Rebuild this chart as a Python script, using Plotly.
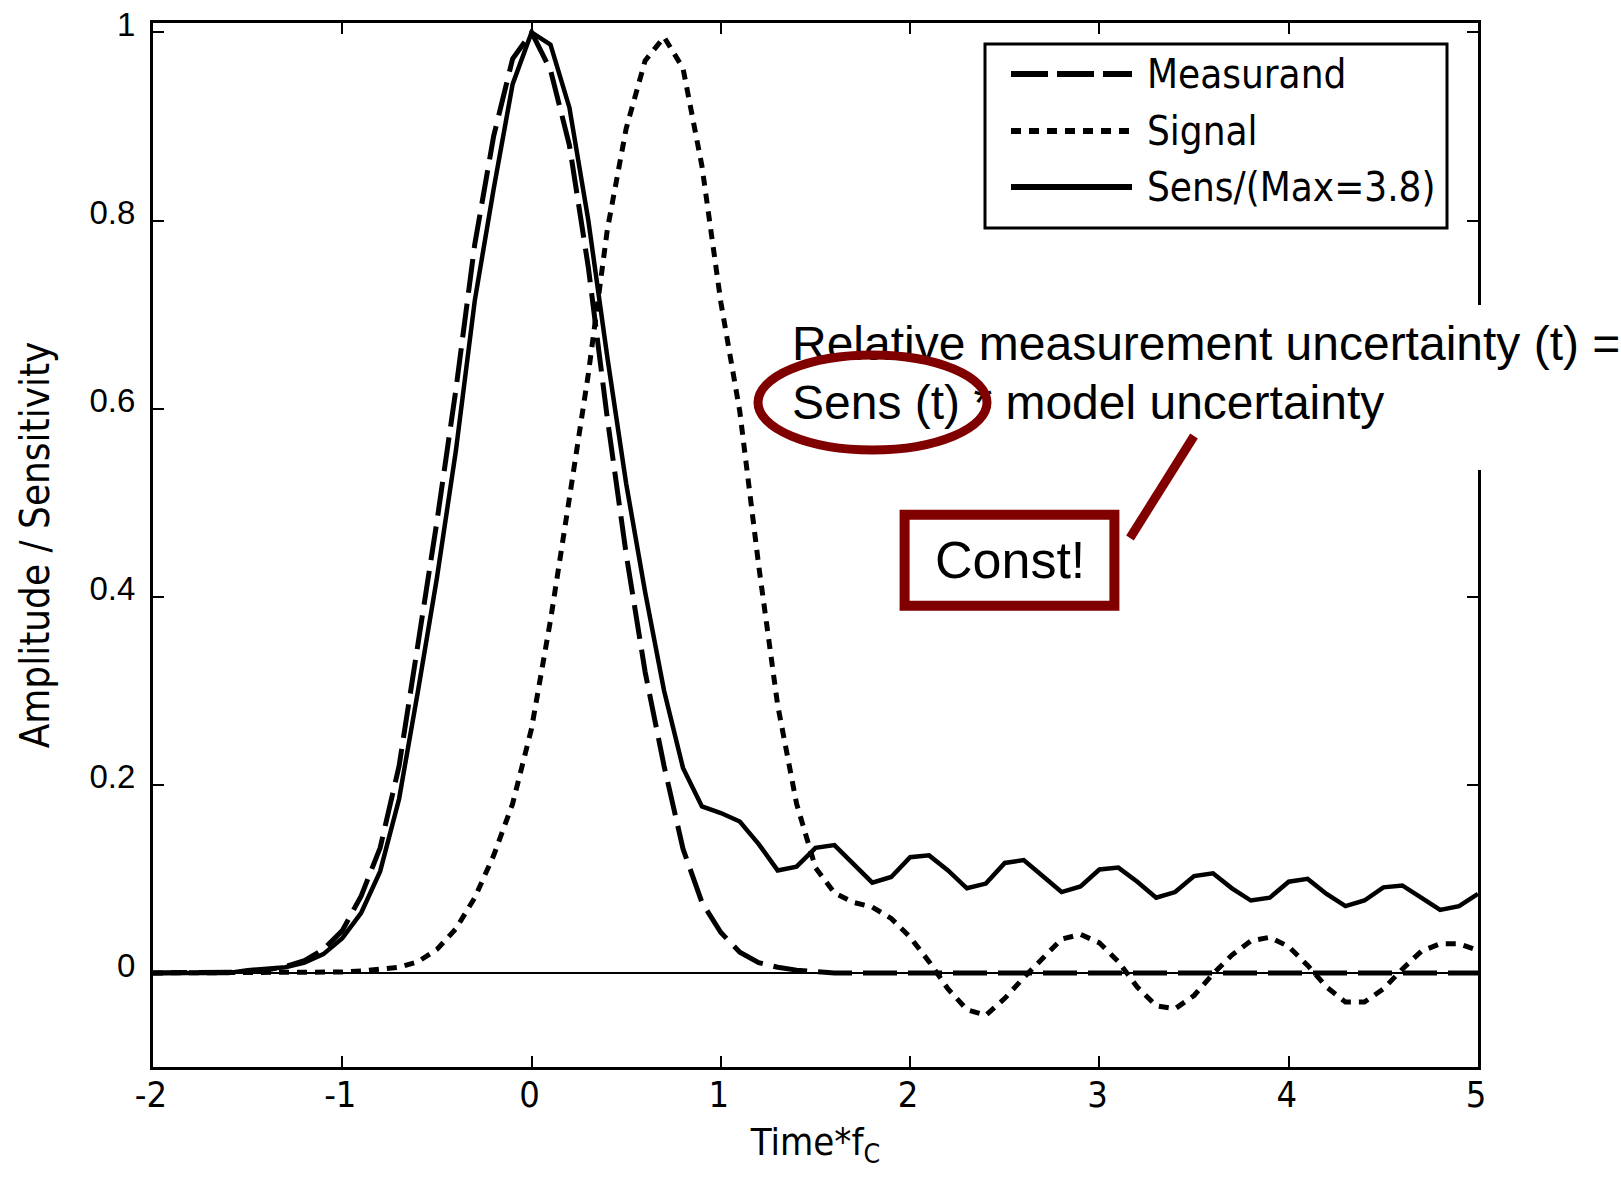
import plotly.graph_objects as go

# ---------------- data ----------------
time_fc = [-2.0, -1.9, -1.8, -1.7, -1.6, -1.5, -1.4, -1.3, -1.2, -1.1,
           -1.0, -0.9, -0.8, -0.7, -0.6, -0.5, -0.4, -0.3, -0.2, -0.1,
           0.0, 0.1, 0.2, 0.3, 0.4, 0.5, 0.6, 0.7, 0.8, 0.9,
           1.0, 1.1, 1.2, 1.3, 1.4, 1.5, 1.6, 1.7, 1.8, 1.9,
           2.0, 2.1, 2.2, 2.3, 2.4, 2.5, 2.6, 2.7, 2.8, 2.9,
           3.0, 3.1, 3.2, 3.3, 3.4, 3.5, 3.6, 3.7, 3.8, 3.9,
           4.0, 4.1, 4.2, 4.3, 4.4, 4.5, 4.6, 4.7, 4.8, 4.9,
           5.0]

measurand = [0, 0, 0, 0, 0, 0.001, 0.003, 0.007, 0.013, 0.025,
             0.045, 0.082, 0.133, 0.22, 0.35, 0.48, 0.62, 0.775, 0.89, 0.972,
             1.0, 0.96, 0.88, 0.75, 0.59, 0.445, 0.32, 0.22, 0.132, 0.075,
             0.043, 0.022, 0.011, 0.006, 0.003, 0.001, 0, 0, 0, 0,
             0, 0, 0, 0, 0, 0, 0, 0, 0, 0,
             0, 0, 0, 0, 0, 0, 0, 0, 0, 0,
             0, 0, 0, 0, 0, 0, 0, 0, 0, 0,
             0]

signal = [0, 0, 0, 0, 0, 0, 0, 0, 0, 0,
          0.001, 0.002, 0.0035, 0.006, 0.012, 0.025, 0.047, 0.08, 0.125, 0.18,
          0.26, 0.375, 0.505, 0.637, 0.79, 0.898, 0.97, 0.995, 0.962, 0.858,
          0.713, 0.597, 0.433, 0.285, 0.18, 0.112, 0.085, 0.075, 0.070, 0.058,
          0.038, 0.012, -0.017, -0.039, -0.045, -0.027, -0.005, 0.016, 0.036, 0.041,
          0.032, 0.012, -0.015, -0.035, -0.038, -0.024, -0.001, 0.019, 0.034, 0.038,
          0.028, 0.008, -0.015, -0.031, -0.031, -0.017, 0.004, 0.023, 0.031, 0.031,
          0.024]

sens_norm = [0, 0, 0, 0, 0, 0.003, 0.004, 0.006, 0.011, 0.02,
             0.037, 0.064, 0.108, 0.185, 0.30, 0.42, 0.555, 0.715, 0.834, 0.945,
             1.0, 0.987, 0.92, 0.80, 0.655, 0.52, 0.405, 0.30, 0.218, 0.177,
             0.170, 0.161, 0.137, 0.109, 0.113, 0.133, 0.136, 0.116, 0.096, 0.102,
             0.123, 0.125, 0.109, 0.090, 0.095, 0.117, 0.120, 0.103, 0.086, 0.092,
             0.110, 0.112, 0.097, 0.080, 0.086, 0.103, 0.106, 0.090, 0.077, 0.080,
             0.097, 0.100, 0.084, 0.071, 0.077, 0.091, 0.093, 0.080, 0.067, 0.071,
             0.084]

series_names = ["Measurand", "Signal", "Sens/(Max=3.8)"]
x_ticks = [-2, -1, 0, 1, 2, 3, 4, 5]
x_tick_labels = ["-2", "-1", "0", "1", "2", "3", "4", "5"]
y_ticks = [0, 0.2, 0.4, 0.6, 0.8, 1]

# ---------------- styling ----------------
NARROW = "Liberation Sans Narrow, Arial Narrow, DejaVu Sans Condensed, sans-serif"
SANS = "Liberation Sans, Arial, sans-serif"
DARKRED = "rgb(128,0,0)"
DASH_M = "34px,11px"
DASH_S = "10px,8px"

fig = go.Figure()
fig.add_trace(go.Scatter(x=time_fc, y=measurand, mode="lines", name=series_names[0],
                         line=dict(color="black", width=5, dash=DASH_M), showlegend=False))
fig.add_trace(go.Scatter(x=time_fc, y=signal, mode="lines", name=series_names[1],
                         line=dict(color="black", width=5, dash=DASH_S), showlegend=False))
fig.add_trace(go.Scatter(x=time_fc, y=sens_norm, mode="lines", name=series_names[2],
                         line=dict(color="black", width=4.5), showlegend=False))

axis_common = dict(showline=True, linecolor="black", linewidth=3, mirror="ticks",
                   ticks="inside", ticklen=11, tickwidth=2, tickcolor="black",
                   showgrid=False, automargin=False)

fig.update_layout(
    width=1621, height=1178,
    margin=dict(l=153, r=143, t=23, b=111),
    paper_bgcolor="white", plot_bgcolor="white",
    xaxis=dict(range=[-2, 5], tickvals=x_ticks, ticktext=x_tick_labels,
               tickfont=dict(family=NARROW, size=36, color="black"),
               zeroline=False, ticklabelstandoff=-6, ticklabelshift=-2,
               title=dict(text="Time*f<sub>C</sub>", font=dict(family=NARROW, size=38, color="black"),
                          standoff=15),
               **axis_common),
    yaxis=dict(range=[-0.1, 1.01], tickvals=y_ticks, tickfont=dict(family=SANS, size=33, color="black"),
               zeroline=True, zerolinecolor="black", zerolinewidth=2,
               ticklabelstandoff=8, ticklabelshift=-8,
               title=dict(text="Amplitude / Sensitivity", font=dict(family=NARROW, size=40, color="black"),
                          standoff=28),
               **axis_common),
    showlegend=False,
)

def px_x(p):
    return (p - 153) / 1325.0

def px_y(p):
    return (1067 - p) / 1044.0

shapes = []
# legend box
shapes.append(dict(type="rect", xref="paper", yref="paper", x0=px_x(985), x1=px_x(1447),
                   y0=px_y(228), y1=px_y(44), line=dict(color="black", width=3),
                   fillcolor="white", layer="above"))
leg_rows = [74, 131, 187]
leg_dash = ["37px,9px", DASH_S, "solid"]
for row, dsh in zip(leg_rows, leg_dash):
    shapes.append(dict(type="line", xref="paper", yref="paper", x0=px_x(1011), x1=px_x(1132),
                       y0=px_y(row), y1=px_y(row), line=dict(color="black", width=6, dash=dsh),
                       layer="above"))
# white background behind the annotation text
shapes.append(dict(type="rect", xref="paper", yref="paper", x0=px_x(772), x1=px_x(1700),
                   y0=px_y(470), y1=px_y(305), line=dict(width=0), fillcolor="white", layer="above"))
# the two annotation text lines, drawn as shape labels so that the ellipse can overlay them
for cy, txt in [(338.0, "Relative measurement uncertainty (t) ="),
                (397.0, "Sens (t) * model uncertainty")]:
    shapes.append(dict(type="rect", xref="paper", yref="paper", x0=px_x(789), x1=px_x(1700),
                       y0=px_y(cy + 20), y1=px_y(cy - 20), line=dict(width=0),
                       fillcolor="rgba(0,0,0,0)", layer="above",
                       label=dict(text=txt, textposition="middle left", padding=0,
                                  font=dict(family=SANS, size=48, color="black"))))
# ellipse around "Sens (t)"
shapes.append(dict(type="circle", xref="paper", yref="paper", x0=px_x(758), x1=px_x(987),
                   y0=px_y(450), y1=px_y(355), line=dict(color=DARKRED, width=9), layer="above"))
# Const! box
shapes.append(dict(type="rect", xref="paper", yref="paper", x0=px_x(904.6), x1=px_x(1114.4),
                   y0=px_y(605.8), y1=px_y(514.8), line=dict(color=DARKRED, width=10),
                   fillcolor="white", layer="above"))
# connector line
shapes.append(dict(type="line", xref="paper", yref="paper", x0=px_x(1194), x1=px_x(1130),
                   y0=px_y(436), y1=px_y(538), line=dict(color=DARKRED, width=9), layer="above"))
fig.update_layout(shapes=shapes)

annotations = []
for row, name in zip(leg_rows, series_names):
    annotations.append(dict(x=px_x(1145), y=px_y(row), xref="paper", yref="paper", text=name,
                            showarrow=False, xanchor="left", yanchor="middle",
                            font=dict(family=NARROW, size=40, color="black")))
annotations.append(dict(x=px_x(1010), y=px_y(560), xref="paper", yref="paper",
                        text="Const!", showarrow=False, xanchor="center", yanchor="middle",
                        font=dict(family=SANS, size=52, color="black")))
fig.update_layout(annotations=annotations)

fig.write_html("out.html")
